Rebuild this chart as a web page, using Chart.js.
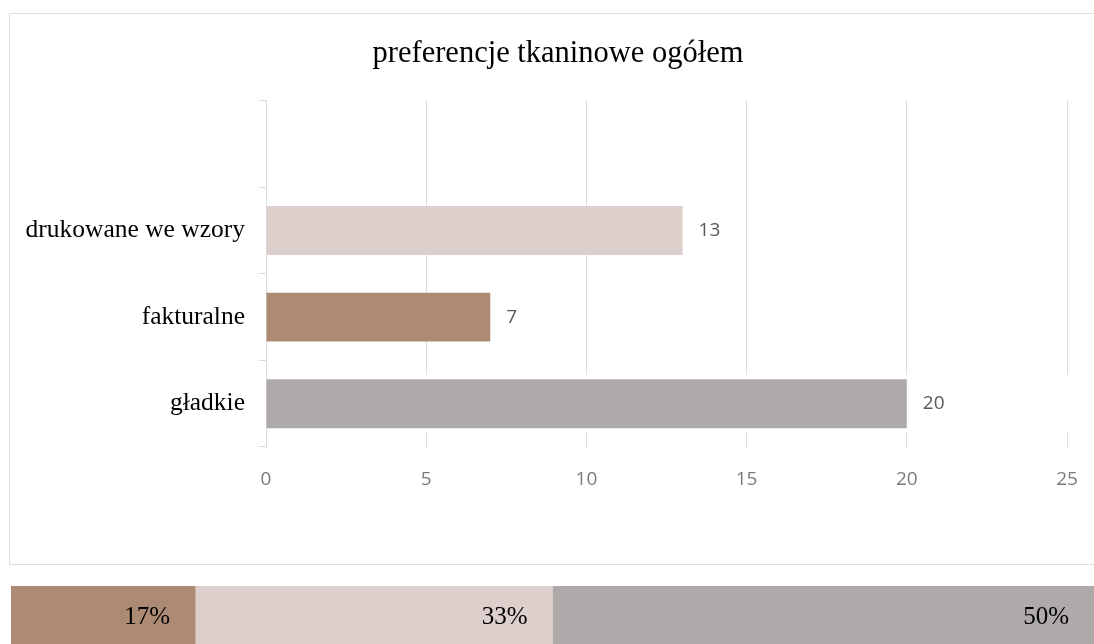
<!DOCTYPE html>
<html>
<head>
<meta charset="utf-8">
<script src="https://cdn.jsdelivr.net/npm/chart.js@4.4.1/dist/chart.umd.min.js"></script>
<style>
  body { margin: 0; background: #fff; width: 1094px; height: 644px; overflow: hidden; position: relative; }
  #box { position: absolute; left: 9px; top: 13px; width: 1100px; height: 550px; border: 1px solid #dcdcdc; }
  #barChart { position: absolute; left: 0; top: 0; }
  #shareChart { position: absolute; left: 11px; top: 586px; }
</style>
</head>
<body>
<div id="box"><canvas id="barChart" width="1084" height="550"></canvas></div>
<canvas id="shareChart" width="1083" height="58"></canvas>
<script>
// fabric preferences, counts per category (top row is left empty)
var categories = ['', 'drukowane we wzory', 'fakturalne', 'gładkie'];
var counts = [null, 13, 7, 20];
var barColors = ['#ffffff', '#ddcfcc', '#ad8a74', '#aeaaa9'];

// shares for the strip underneath
var shareNames = ['fakturalne', 'drukowane we wzory', 'gładkie'];
var shares = [17, 33, 50];
var shareColors = ['#ad8a74', '#ddcfcc', '#aeaaa9'];

var xTicks = [0, 5, 10, 15, 20, 25];

// value next to each bar
var valueLabels = {
  id: 'valueLabels',
  afterDatasetsDraw: function (chart) {
    var ctx = chart.ctx;
    var meta = chart.getDatasetMeta(0);
    ctx.save();
    ctx.font = '19px "Open Sans"';
    ctx.fillStyle = '#595959';
    ctx.textAlign = 'left';
    ctx.textBaseline = 'middle';
    meta.data.forEach(function (bar, i) {
      if (counts[i] == null) return;
      ctx.fillText(String(counts[i]), bar.x + 16, bar.y);
    });
    ctx.restore();
  }
};

// the gridlines break around the last row
var rowGap = {
  id: 'rowGap',
  beforeDatasetsDraw: function (chart) {
    var y = chart.scales.y;
    var area = chart.chartArea;
    var last = categories.length - 1;
    var mid = y.getPixelForValue(last);
    var band = (area.bottom - area.top) / categories.length;
    var ctx = chart.ctx;
    ctx.save();
    ctx.fillStyle = '#ffffff';
    ctx.fillRect(area.left + 1, mid - band * 0.335, area.right - area.left + 2, band * 0.67);
    ctx.restore();
  }
};

// let the long category names run into the left padding instead of being clipped
var wideLabels = {
  id: 'wideLabels',
  afterLayout: function (chart) {
    chart.scales.y.left = 0;
  }
};

new Chart(document.getElementById('barChart'), {
  type: 'bar',
  data: {
    labels: categories,
    datasets: [{
      data: counts,
      backgroundColor: barColors,
      borderWidth: 0,
      barPercentage: 0.565,
      categoryPercentage: 1
    }]
  },
  options: {
    indexAxis: 'y',
    responsive: false,
    animation: false,
    devicePixelRatio: 1,
    layout: { padding: { left: 39, right: 27, top: 0, bottom: 0 } },
    plugins: {
      legend: { display: false },
      tooltip: { enabled: false },
      title: {
        display: true,
        text: 'preferencje tkaninowe ogółem',
        color: '#000000',
        font: { family: '"Liberation Serif"', size: 30.5, weight: 'normal', lineHeight: 1.2 },
        padding: { top: 22, bottom: 28 }
      }
    },
    scales: {
      x: {
        min: 0,
        max: 25,
        afterBuildTicks: function (scale) {
          scale.ticks = xTicks.map(function (v) { return { value: v }; });
        },
        afterFit: function (scale) { scale.height = 117; },
        grid: { color: '#dcdcdc', drawTicks: true, tickLength: 21, tickColor: 'rgba(0,0,0,0)' },
        border: { display: false },
        ticks: {
          padding: 0,
          color: '#7a7a7a',
          font: { family: '"Open Sans"', size: 19 }
        }
      },
      y: {
        afterFit: function (scale) { scale.width = 217; },
        grid: { drawOnChartArea: false, drawTicks: true, tickLength: 7, color: '#dcdcdc' },
        border: { display: true, color: '#dcdcdc' },
        ticks: {
          padding: 14,
          color: '#000000',
          font: { family: '"Liberation Serif"', size: 25.5 }
        }
      }
    }
  },
  plugins: [valueLabels, rowGap, wideLabels]
});

// percentage text at the right end of each segment
var shareLabels = {
  id: 'shareLabels',
  afterDatasetsDraw: function (chart) {
    var ctx = chart.ctx;
    ctx.save();
    ctx.font = '25px "Liberation Serif"';
    ctx.fillStyle = '#000000';
    ctx.textAlign = 'right';
    ctx.textBaseline = 'middle';
    chart.data.datasets.forEach(function (ds, i) {
      var bar = chart.getDatasetMeta(i).data[0];
      ctx.fillText(shares[i] + '%', bar.x - 25, bar.y + 2);
    });
    ctx.restore();
  }
};

new Chart(document.getElementById('shareChart'), {
  type: 'bar',
  data: {
    labels: [''],
    datasets: shareNames.map(function (name, i) {
      return {
        label: name,
        data: [shares[i]],
        backgroundColor: shareColors[i],
        borderWidth: 0,
        barPercentage: 1,
        categoryPercentage: 1
      };
    })
  },
  options: {
    indexAxis: 'y',
    responsive: false,
    animation: false,
    devicePixelRatio: 1,
    layout: { padding: 0 },
    plugins: { legend: { display: false }, tooltip: { enabled: false } },
    scales: {
      x: { stacked: true, min: 0, max: 100, display: false },
      y: { stacked: true, display: false }
    }
  },
  plugins: [shareLabels]
});
</script>
</body>
</html>
